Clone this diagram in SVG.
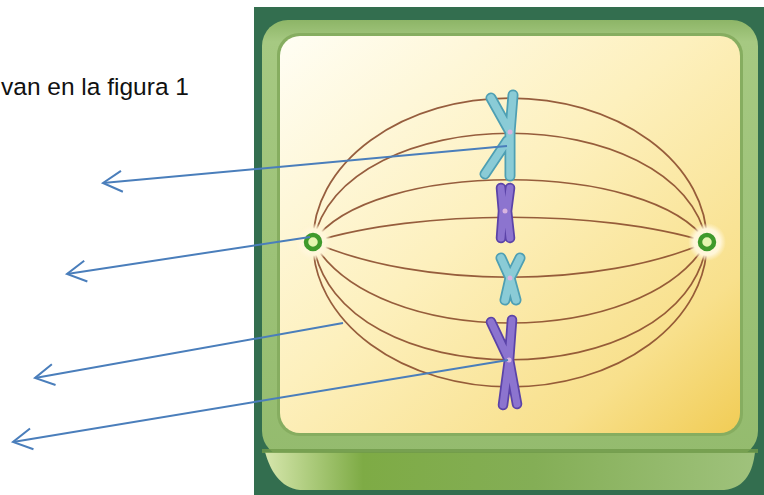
<svg xmlns="http://www.w3.org/2000/svg" xmlns:xlink="http://www.w3.org/1999/xlink" width="764" height="495" viewBox="0 0 764 495">
  <style>
    .label { font-family: "Liberation Sans", Arial, sans-serif; font-size: 24.5px; fill: #111; }
    .fiber { fill: none; stroke: #8b4c2e; stroke-width: 1.7; stroke-opacity: 0.9; }
    .arrow { fill: none; stroke: #4a7ebb; stroke-width: 2; marker-end: url(#ah); }
    .cyanO { fill: none; stroke: #4e9fb3; stroke-width: 11; stroke-linecap: round; stroke-linejoin: round; }
    .cyanI { fill: none; stroke: #8acbd6; stroke-width: 7.5; stroke-linecap: round; stroke-linejoin: round; }
    .purO { fill: none; stroke: #5b43a8; stroke-width: 10.5; stroke-linecap: round; stroke-linejoin: round; }
    .purI { fill: none; stroke: #8c74cf; stroke-width: 7; stroke-linecap: round; stroke-linejoin: round; }
    .centro { fill: #d7b4e0; }
    .centriole { fill: #e4f5b0; stroke: #3f9a2c; stroke-width: 4.5; }
  </style>
  <defs>
    <linearGradient id="cream" x1="0" y1="0" x2="1" y2="1">
      <stop offset="0" stop-color="#fffef4"/>
      <stop offset="0.45" stop-color="#fdf0bd"/>
      <stop offset="0.8" stop-color="#f8e08c"/>
      <stop offset="1" stop-color="#f1cc55"/>
    </linearGradient>
    <linearGradient id="frame" x1="0" y1="0" x2="0" y2="1">
      <stop offset="0" stop-color="#8db567"/>
      <stop offset="0.05" stop-color="#a6c982"/>
      <stop offset="1" stop-color="#94bb6e"/>
    </linearGradient>
    <linearGradient id="base" x1="0" y1="0" x2="1" y2="0">
      <stop offset="0" stop-color="#d6e6ac"/>
      <stop offset="0.1" stop-color="#a9c978"/>
      <stop offset="0.2" stop-color="#7eab45"/>
      <stop offset="0.55" stop-color="#84ae56"/>
      <stop offset="1" stop-color="#9fc27c"/>
    </linearGradient>
    <radialGradient id="halo">
      <stop offset="0" stop-color="#fffbe6"/>
      <stop offset="0.7" stop-color="#fff6d8"/>
      <stop offset="1" stop-color="#fff3d0" stop-opacity="0"/>
    </radialGradient>
    <marker id="ah" markerUnits="userSpaceOnUse" markerWidth="26" markerHeight="26" viewBox="-22 -13 26 26" refX="0" refY="0" orient="auto">
      <path d="M-19,-10.5 L0,0 L-19,10.5" fill="none" stroke="#4a7ebb" stroke-width="2"/>
    </marker>
    <!-- chromatid skeletons, drawn twice (outline + body) -->
    <path id="chrA" d="M491,98 L510,132 L510,176 M513,95 L510,132 M507,141 L485,174"/>
    <path id="chrB" d="M501,188 L503,211 L501,238 M510,188 L507,211 L510,238"/>
    <path id="chrC" d="M501,258 L510,278 L505,300 M520,258 L510,278 L516,300"/>
    <path id="chrD" d="M491,322 L509,360 L503,405 M512,320 L509,360 L517,404"/>
  </defs>

  <!-- caption fragment -->
  <text class="label" x="1" y="95">van en la figura 1</text>

  <!-- cell panel -->
  <g id="cell">
    <rect x="254" y="7" width="510" height="488" fill="#336e4f"/>
    <rect x="262" y="20" width="496" height="437" rx="26" fill="url(#frame)"/>
    <path d="M265,452 H755 C753,470 746,488 724,490 H300 C280,488 270,470 265,452 Z" fill="url(#base)"/>
    <rect x="262" y="449" width="496" height="4" fill="#6f9a4a" opacity="0.8"/>
    <rect x="277" y="33" width="466" height="403" rx="22" fill="#86ad60"/>
    <rect x="280" y="36" width="460" height="397" rx="20" fill="url(#cream)"/>
  </g>

  <!-- spindle fibres -->
  <g id="spindle">
    <path class="fiber" d="M313,242 A197,144 0 0 1 707,242"/>
    <path class="fiber" d="M313,242 C343,97 677,97 707,242"/>
    <path class="fiber" d="M313,242 C370,159 650,159 707,242"/>
    <path class="fiber" d="M313,242 C420,209 600,209 707,242"/>
    <path class="fiber" d="M313,242 C420,289 600,289 707,242"/>
    <path class="fiber" d="M313,242 C375,350 645,350 707,242"/>
    <path class="fiber" d="M313,242 C335,399 685,399 707,242"/>
    <path class="fiber" d="M313,242 A197,145 0 0 0 707,242"/>
  </g>

  <!-- poles -->
  <g id="pole-left">
    <circle cx="313" cy="242" r="19" fill="url(#halo)"/>
    <circle class="centriole" cx="313" cy="242" r="7"/>
  </g>
  <g id="pole-right">
    <circle cx="707" cy="242" r="19" fill="url(#halo)"/>
    <circle class="centriole" cx="707" cy="242" r="7"/>
  </g>

  <!-- chromosomes on the metaphase plate -->
  <g id="chromosome-1">
    <use xlink:href="#chrA" class="cyanO"/>
    <use xlink:href="#chrA" class="cyanI"/>
    <circle class="centro" cx="510" cy="132" r="2.5"/>
  </g>
  <g id="chromosome-2">
    <use xlink:href="#chrB" class="purO"/>
    <use xlink:href="#chrB" class="purI"/>
    <circle class="centro" cx="505" cy="211" r="2.5"/>
  </g>
  <g id="chromosome-3">
    <use xlink:href="#chrC" class="cyanO"/>
    <use xlink:href="#chrC" class="cyanI"/>
    <circle class="centro" cx="510" cy="278" r="2.5"/>
  </g>
  <g id="chromosome-4">
    <use xlink:href="#chrD" class="purO"/>
    <use xlink:href="#chrD" class="purI"/>
    <circle class="centro" cx="509" cy="360" r="2.5"/>
  </g>

  <!-- pointer arrows -->
  <g id="connectors">
    <path class="arrow" d="M507,146 L103,183"/>
    <path class="arrow" d="M310,237 L67,274"/>
    <path class="arrow" d="M343,323 L35,378"/>
    <path class="arrow" d="M508,360 L13,442"/>
  </g>
</svg>
